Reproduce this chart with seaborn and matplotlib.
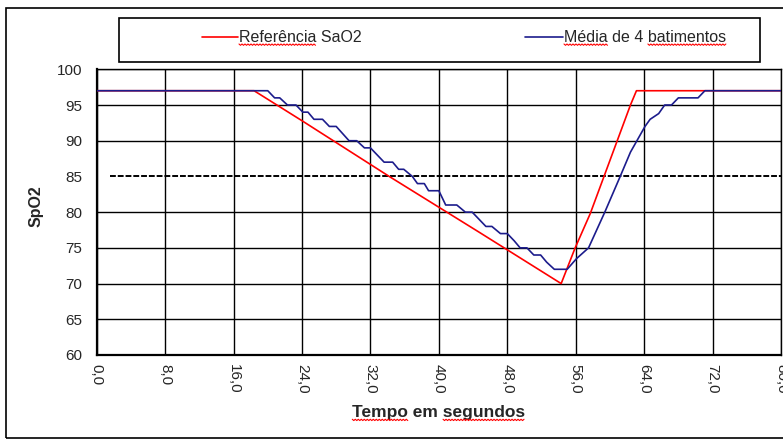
import matplotlib
matplotlib.use("Agg")
import matplotlib.pyplot as plt
from matplotlib.lines import Line2D
from matplotlib.patches import Rectangle
from matplotlib.transforms import IdentityTransform
import numpy as np
import pandas as pd
import seaborn as sns

# data
red_label = "Referência SaO2"
red_t = [0, 18.4, 24.0, 34.2, 44.7, 54.3, 55.9, 57.7, 62.4, 63.1, 80]
red_v = [97, 97, 92.8, 85, 77.2, 70, 74.9, 79.8, 95, 97, 97]

blue_label = "Média de 4 batimentos"
blue_t = [0, 20.0, 20.8, 21.4, 22.3, 23.3, 24.1, 24.7, 25.4, 26.4, 27.2, 28.0,
          29.5, 30.4, 31.3, 32.0, 33.6, 34.6, 35.3, 35.9, 36.9, 37.5, 38.3,
          38.8, 40.0, 40.8, 42.1, 43.1, 43.9, 44.7, 45.5, 46.2, 47.2, 48.0,
          48.8, 49.5, 50.3, 51.1, 51.9, 52.6, 53.5, 55.0, 56.1, 57.5, 59.4,
          61.2, 62.4, 64.1, 64.7, 65.7, 66.4, 67.2, 68.0, 70.3, 71.1, 80]
blue_v = [97, 97, 96, 96, 95, 95, 94, 94, 93, 93, 92, 92,
          90, 90, 89, 89, 87, 87, 86, 86, 85, 84, 84,
          83, 83, 81, 81, 80, 80, 79, 78, 78, 77, 77,
          76, 75, 75, 74, 74, 73, 72, 72, 73.5, 75, 80,
          85, 88.4, 92, 93, 93.8, 95, 95, 96, 96, 97, 97]

threshold = 85
x_ticks = [0, 8, 16, 24, 32, 40, 48, 56, 64, 72, 80]
x_tick_labels = ["0,0", "8,0", "16,0", "24,0", "32,0", "40,0", "48,0",
                 "56,0", "64,0", "72,0", "80,0"]
y_ticks = [60, 65, 70, 75, 80, 85, 90, 95, 100]

RED = "#ff0000"
BLUE = "#1c1c8c"

sns.set_style("white")
plt.rcParams["font.family"] = ["Liberation Sans", "DejaVu Sans"]

red_df = pd.DataFrame({"t": red_t, "v": red_v})
blue_df = pd.DataFrame({"t": blue_t, "v": blue_v})

fig = plt.figure(figsize=(7.83, 4.40), dpi=100)
ax = fig.add_axes([96.7 / 783, 1 - 355 / 440, (781 - 96.7) / 783, (355 - 69.3) / 440])

# grid (the 85 line is drawn separately, dashed)
for x in x_ticks:
    ax.axvline(x, color="black", lw=1.0, zorder=1)
for y in y_ticks:
    if y != threshold:
        ax.axhline(y, color="black", lw=1.0, zorder=1)
ax.axhline(threshold, xmin=0.02, color="black", lw=1.4, ls=(0, (3, 1)), zorder=1)

sns.lineplot(data=red_df, x="t", y="v", color=RED, lw=1.2,
             sort=False, estimator=None, ax=ax, zorder=3)
sns.lineplot(data=blue_df, x="t", y="v", color=BLUE, lw=1.2,
             sort=False, estimator=None, ax=ax, zorder=4)

ax.set_xlim(0, 80)
ax.set_ylim(60, 100)
ax.set_xticks(x_ticks)
ax.set_xticklabels(x_tick_labels, rotation=-90, fontsize=11)
ax.set_yticks(y_ticks)
ax.set_yticklabels([str(y) for y in y_ticks], fontsize=11)
ax.tick_params(axis="both", direction="inout", length=7, width=1.2, color="black")
ax.tick_params(axis="y", pad=7)
ax.tick_params(axis="x", pad=3)
for s in ax.spines.values():
    s.set_color("black")
    s.set_linewidth(1.0)
ax.spines["left"].set_linewidth(1.6)
ax.spines["bottom"].set_linewidth(1.6)

xlab = ax.set_xlabel("Tempo em segundos", fontsize=12.5, fontweight="bold", labelpad=8)
ax.set_ylabel("SpO2", fontsize=11.5, fontweight="bold")
ax.yaxis.set_label_coords(-0.078, 0.52)

# outer chart frame
fig.add_artist(Rectangle((6 / 783, 2 / 440), 1.0, (440 - 8 - 2) / 440,
                         transform=fig.transFigure, fill=False, ec="black", lw=1.2))

# legend box
fig.add_artist(Rectangle((119 / 783, 1 - 62 / 440), (760 - 119) / 783, 44 / 440,
                         transform=fig.transFigure, fill=False, ec="black", lw=1.2))
ly = 1 - 37 / 440
fig.add_artist(Line2D([202 / 783, 238 / 783], [ly, ly], transform=fig.transFigure,
                      color=RED, lw=1.2))
t_red = fig.text(239 / 783, ly, red_label, fontsize=11.5, va="center", ha="left")
fig.add_artist(Line2D([525 / 783, 563 / 783], [ly, ly], transform=fig.transFigure,
                      color=BLUE, lw=1.2))
t_blue = fig.text(564 / 783, ly, blue_label, fontsize=11.5, va="center", ha="left")

# red spell-check squiggles under some words, as in the screenshot
fig.canvas.draw()
rend = fig.canvas.get_renderer()


def squiggle(txt, words):
    bb = txt.get_window_extent(rend)
    s = txt.get_text()
    fp = txt.get_fontproperties()
    for w in words:
        i = s.index(w)
        x0 = bb.x0 + (rend.get_text_width_height_descent(s[:i], fp, ismath=False)[0] if i else 0)
        wd = rend.get_text_width_height_descent(w, fp, ismath=False)[0]
        xs = np.arange(x0, x0 + wd, 1.5)
        ys = bb.y0 + 0.5 + np.where(np.arange(len(xs)) % 2 == 0, 0.0, -1.3)
        fig.add_artist(Line2D(xs, ys, transform=IdentityTransform(), color=RED, lw=0.8))


squiggle(t_red, ["Referência"])
squiggle(t_blue, ["Média", "batimentos"])
squiggle(xlab, ["Tempo", "segundos"])

fig.savefig("out.png", dpi=100)
